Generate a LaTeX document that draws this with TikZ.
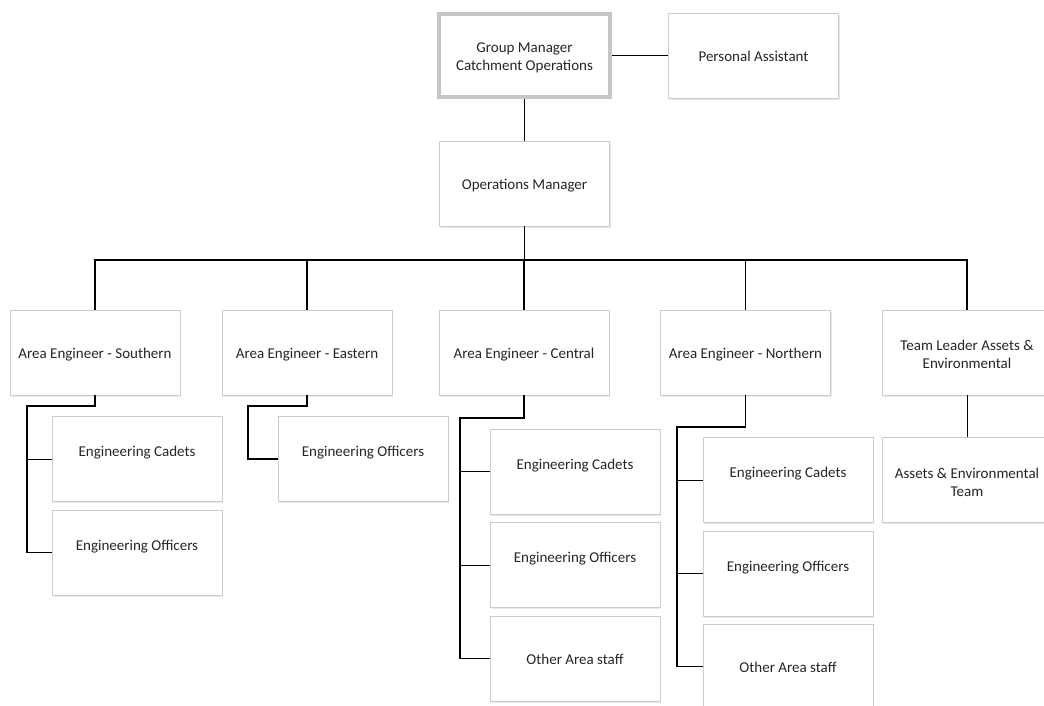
\documentclass[tikz,border=0pt]{standalone}
\usepackage{fontspec}
\setmainfont{Carlito}
\usetikzlibrary{shadows}
\tikzset{
  x=1pt, y=-1pt,
  box/.style={draw=gray!40, line width=0.8pt, fill=white, minimum width=170pt, minimum height=85pt, inner sep=0pt,
    drop shadow={shadow xshift=1.2pt, shadow yshift=-1.5pt, fill=blue!30!gray!40, opacity=0.35}},
  gmbox/.style={draw=gray!45, line width=4pt, fill=white, minimum width=171pt, minimum height=83pt, inner sep=0pt},
  txtbase/.style={font=\fontsize{15}{18}\selectfont, align=center, text=black!85},
  txt/.style={txtbase, text height=10.5pt, text depth=3.5pt},
  up/.style={label={[txt, yshift=6pt]center:#1}},
  mid/.style={label={[txt, yshift=-2pt]center:#1}},
  twoline/.style={label={[txtbase, yshift=-2pt]center:#1}},
  conn/.style={draw=black, line width=1.3pt},
  thin/.style={draw=black, line width=1pt}
}
\begin{document}
\begin{tikzpicture}
\useasboundingbox (0,0) rectangle (1044,705);
\begin{scope}
\clip (0,0) rectangle (1044,705);
% top
\node[gmbox, twoline={Group Manager\\Catchment Operations}] (gm) at (524.5,55.5) {};
\node[box, mid={Personal Assistant}] (pa) at (753.5,55.5) {};
\node[box, mid={Operations Manager}] (om) at (524.5,183.5) {};
% level 2
\node[box, mid={Area Engineer - Southern}] (so) at (95,352.5) {};
\node[box, mid={Area Engineer - Eastern}] (ea) at (307,352.5) {};
\node[box, mid={Area Engineer - Central}] (ce) at (524,352.5) {};
\node[box, mid={Area Engineer - Northern}] (no) at (745.5,352.5) {};
\node[box, twoline={Team Leader Assets \&\\Environmental}] (tl) at (967,352.5) {};
% southern
\node[box, up={Engineering Cadets}] (so1) at (137,459) {};
\node[box, up={Engineering Officers}] (so2) at (137,552.5) {};
% eastern
\node[box, up={Engineering Officers}] (ea1) at (363,459) {};
% central
\node[box, up={Engineering Cadets}] (ce1) at (575,471.5) {};
\node[box, up={Engineering Officers}] (ce2) at (575,565) {};
\node[box, mid={Other Area staff}] (ce3) at (575,658.5) {};
% northern
\node[box, up={Engineering Cadets}] (no1) at (788,480) {};
\node[box, up={Engineering Officers}] (no2) at (788,573.5) {};
\node[box, mid={Other Area staff}] (no3) at (788,666.5) {};
% team
\node[box, twoline={Assets \& Environmental\\Team}] (tl1) at (967,480) {};

% connectors
\coordinate (bus) at (524.5,260);
\draw[thin] (gm.east) -- (pa.west);
\draw[thin] (gm.south) -- (om.north);
\draw[conn] (om.south) -- (bus);
\draw[conn] (so.north) |- (bus -| tl.north) -- (tl.north);
\draw[conn] (ea.north) -- (ea.north |- bus);
\draw[conn] (ce.north) -- (ce.north |- bus);
\draw[conn] (no.north) -- (no.north |- bus);
\draw[thin] (tl.south) -- (tl1.north);

\coordinate (sb) at (27,406);
\draw[conn] (so.south) |- (sb) |- (so2.west);
\draw[thin] (sb |- so1.west) -- (so1.west);

\coordinate (eb) at (248,406);
\draw[conn] (ea.south) |- (eb) |- (ea1.west);

\coordinate (cb) at (460,418);
\draw[conn] (ce.south) |- (cb) |- (ce3.west);
\draw[thin] (cb |- ce1.west) -- (ce1.west);
\draw[thin] (cb |- ce2.west) -- (ce2.west);

\coordinate (nb) at (677,427);
\draw[conn] (no.south) |- (nb) |- (no3.west);
\draw[thin] (nb |- no1.west) -- (no1.west);
\draw[thin] (nb |- no2.west) -- (no2.west);
\end{scope}
\end{tikzpicture}
\end{document}
